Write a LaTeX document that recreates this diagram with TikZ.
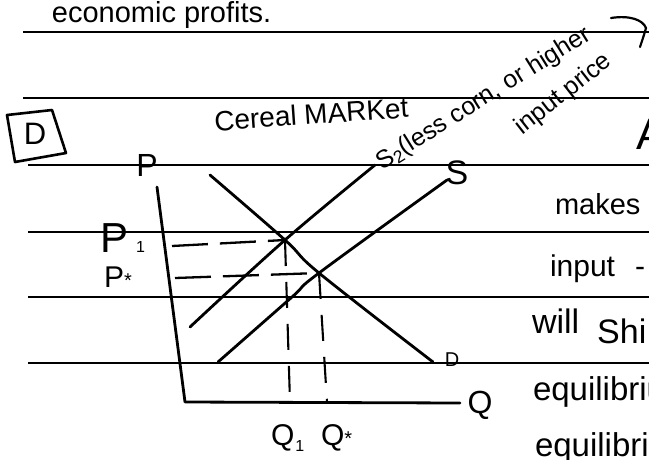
\documentclass[tikz,border=0pt]{standalone}
\usepackage{fontspec}
\setmainfont{Liberation Sans}
\newcommand\hsz[1]{\fontsize{#1}{#1}\selectfont}
\begin{document}
\begin{tikzpicture}[x=1pt,y=-1pt,
  rule/.style={line width=1.8pt, black},
  curve/.style={line width=2.8pt, line cap=round, line join=round},
  hguide/.style={line width=2.3pt, dash pattern=on 36pt off 12pt},
  vguide/.style={line width=2.1pt, dash pattern=on 26pt off 16pt},
  hand/.style={inner sep=0pt, outer sep=0pt}
]
\useasboundingbox (0,0) rectangle (649,459);
\clip (0,0) rectangle (649,459);
\fill[white] (0,0) rectangle (649,459);

% ruled notebook lines
\foreach \yy/\xx in {32/23, 98/23, 165/28, 232/28, 297/28, 363/28}
  \draw[rule] (\xx,\yy) -- (649,\yy);

% heading text
\node[hand, anchor=base west] (econ) at (52,22) {\hsz{29}economic profits.};

% boxed D
\node[hand] (boxD) at (35,134) {\hsz{31}D};
\coordinate (b1) at (7,115);
\coordinate (b2) at (52,110);
\coordinate (b3) at (66,153);
\coordinate (b4) at (15,162);
\draw[line width=2.6pt, line join=round] (b1) -- (b2) -- (b3) -- (b4) -- cycle;

\node[hand, anchor=base west, rotate=4] (cereal) at (215,131) {\hsz{28}Cereal MARKet};

% rotated annotation
\node[hand, anchor=base west, rotate=32] (s2note) at (382,170)
  {\hsz{25}S\textsubscript{2}(less corn, or higher};
\node[hand, anchor=base west, rotate=38] (inputnote) at (522,135)
  {\hsz{25}input price};
\coordinate (br1) at (611,18);
\coordinate (br2) at (646,28);
\coordinate (br3) at (640,47);
\draw[line width=2.2pt, line cap=round] (br1) .. controls (630,15) and (643,20) .. (br2)
  .. controls (644,35) .. (br3);

% right-hand text (cut off at the page edge)
\node[hand, anchor=base west] (tA) at (636,149) {\hsz{44}A};
\node[hand, anchor=base west] (tmakes) at (555,214) {\hsz{29}makes};
\node[hand, anchor=base west] (tinput) at (550,276) {\hsz{30}input\hspace{20pt}-};
\node[hand, anchor=base west] (twill) at (532,333) {\hsz{34}will\hspace{18pt}\raisebox{-10pt}{Shi}};
\node[hand, anchor=base west] (teq1) at (533,400) {\hsz{33}equilibriu};
\node[hand, anchor=base west] (teq2) at (535,456) {\hsz{33}equilibriu};

% axes
\coordinate (ytop) at (157,187);
\coordinate (O) at (185,402);
\coordinate (xend) at (460,403);
\draw[curve] (ytop) -- (O) -- (xend);
\node[hand] (Plab) at (147,165) {\hsz{32}P};
\node[hand] (Qlab) at (480,405) {\hsz{32}Q};

% equilibrium points
\coordinate (E1) at (285,240);
\coordinate (E0) at (319,273);

% demand
\coordinate (dA) at (210,175);
\coordinate (dB) at (433,362);
\draw[curve] plot[smooth, tension=0.6] coordinates {(dA) (E1) (E0) (dB)};
\node[hand] (Dlab) at (452,360) {\hsz{20}D};

% shifted supply S2
\coordinate (s2A) at (190,327);
\coordinate (s2B) at (375,165);
\draw[curve] plot[smooth, tension=0.6] coordinates {(s2A) (E1) (s2B)};

% original supply S
\coordinate (sA) at (218,362);
\coordinate (sB) at (447,180);
\draw[curve] plot[smooth, tension=0.6] coordinates {(sA) (292,297) (E0) (sB)};
\node[hand] (Slab) at (457,173) {\hsz{34}S};

% guide lines
\coordinate (p1ax) at (172,246);
\coordinate (psax) at (175,278);
\coordinate (q1ax) at (290,402);
\coordinate (qsax) at (327,402);
\draw[hguide] (p1ax) -- (E1);
\draw[hguide] (psax) -- (E0);
\draw[vguide] (E1) -- (q1ax);
\draw[vguide] (E0) -- (qsax);

% axis value labels
\node[hand, anchor=base west] (P1lab) at (100,252) {\hsz{42}P\hspace{8pt}{\hsz{16}1}};
\node[hand, anchor=base west] (Pslab) at (104,287) {\hsz{30}P{\hsz{20}*}};
\node[hand, anchor=base west] (Q1lab) at (271,445) {\hsz{30}Q\hspace{1pt}\raisebox{-6pt}{\hsz{16}1}};
\node[hand, anchor=base west] (Qslab) at (321,445) {\hsz{30}Q{\hsz{20}*}};
\end{tikzpicture}
\end{document}
